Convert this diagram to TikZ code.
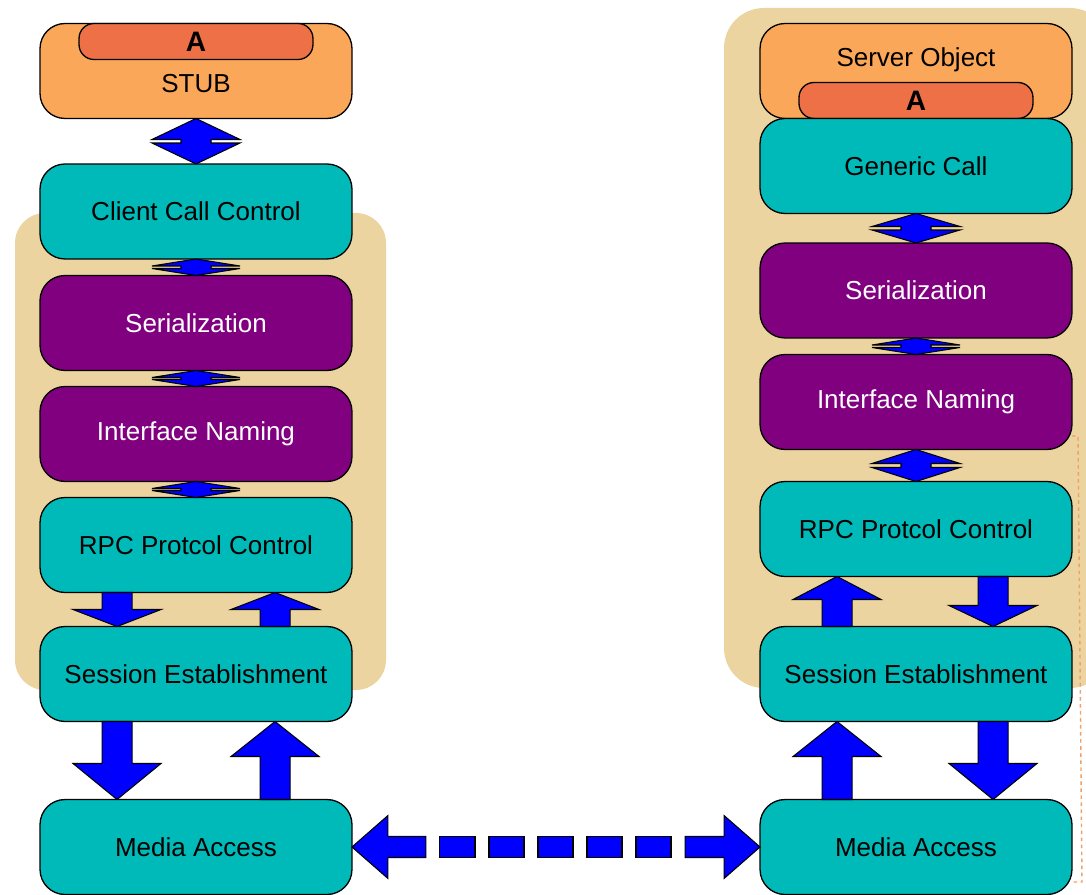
\documentclass[tikz,border=0pt]{standalone}
\usepackage{fontspec}
\setmainfont{Liberation Sans}
\usetikzlibrary{calc}

\definecolor{tanbg}{RGB}{236,212,160}
\definecolor{stubcol}{RGB}{251,167,89}
\definecolor{pillcol}{RGB}{238,112,70}
\definecolor{tealcol}{RGB}{0,186,186}
\definecolor{purplecol}{RGB}{128,0,128}
\definecolor{dotcol}{RGB}{240,160,100}

\tikzset{
	layer/.style={draw,line width=0.75pt,rounded corners=0.5cm,minimum width=6.24cm,minimum height=1.9cm,inner sep=0pt,outer sep=0pt,font=\fontsize{14.8}{17}\selectfont},
	lbl/.style={font=\fontsize{14.8}{17}\selectfont,inner sep=0pt},
	pill/.style={draw,line width=0.75pt,fill=pillcol,rounded corners=0.3cm,minimum width=4.68cm,minimum height=0.72cm,inner sep=0pt,outer sep=0pt,font=\fontsize{16}{18}\selectfont\bfseries},
	blockarr/.style={draw,fill=blue,line width=0.6pt,line join=miter}
}

% block arrows between stacked layers
\newcommand{\blockdown}[4]{\draw[blockarr] ($(#1.south west)+(#3-15,0)$) -- ($(#1.south west)+(#3+15,0)$) -- ($(#2.north west)+(#3+15,-#4)$) -- ($(#2.north west)+(#3+44,-#4)$) -- ($(#2.north west)+(#3,0)$) -- ($(#2.north west)+(#3-44,-#4)$) -- ($(#2.north west)+(#3-15,-#4)$) -- cycle;}
\newcommand{\blockup}[4]{\draw[blockarr] ($(#2.north west)+(#3-15,0)$) -- ($(#2.north west)+(#3+15,0)$) -- ($(#1.south west)+(#3+15,#4)$) -- ($(#1.south west)+(#3+44,#4)$) -- ($(#1.south west)+(#3,0)$) -- ($(#1.south west)+(#3-44,#4)$) -- ($(#1.south west)+(#3-15,#4)$) -- cycle;}
\newcommand{\blockboth}[3]{\draw[blockarr] (#1.south) -- ($(#1.south)+(44,#3)$) -- ($(#1.south)+(15,#3)$) -- ($(#2.north)+(15,-#3)$) -- ($(#2.north)+(44,-#3)$) -- (#2.north) -- ($(#2.north)+(-44,-#3)$) -- ($(#2.north)+(-15,-#3)$) -- ($(#1.south)+(-15,#3)$) -- ($(#1.south)+(-44,#3)$) -- cycle;}

\begin{document}
\begin{tikzpicture}[x=0.02cm,y=-0.02cm]
	\useasboundingbox (0,0) rectangle (1086,895);
	\fill[tanbg,rounded corners=0.6cm] (15,213) rectangle (386,690);
	\fill[tanbg,rounded corners=0.8cm] (724,8) rectangle (1110,688);
	\draw[dotcol,line width=0.8pt,dash pattern=on 2pt off 2pt] (1072,436) -- (1078,436) -- (1082,882) -- (1072,882);

	% client side
	\node[layer,fill=stubcol,label={[lbl,yshift=-0.26cm]center:STUB}] (stub) at (196,71) {};
	\node[pill,anchor=north] (stubA) at (stub.north) {A};
	\node[layer,fill=tealcol] (client) at (196,211.5) {Client Call Control};
	\node[layer,fill=purplecol,text=white] (serL) at (196,323) {Serialization};
	\node[layer,fill=purplecol,text=white] (intL) at (196,434) {Interface Naming};
	\node[layer,fill=tealcol] (rpcL) at (196,545) {RPC Protcol Control};
	\node[layer,fill=tealcol] (sessL) at (196,674) {Session Establishment};
	\node[layer,fill=tealcol] (mediaL) at (196,847) {Media Access};

	% server side
	\node[layer,fill=stubcol,label={[lbl,yshift=0.22cm]center:Server Object}] (server) at (916,71) {};
	\node[pill,anchor=south] (serverA) at (server.south) {A};
	\node[layer,fill=tealcol] (genR) at (916,166) {Generic Call};
	\node[layer,fill=purplecol,text=white] (serR) at (916,290.5) {Serialization};
	\node[layer,fill=purplecol,text=white] (intR) at (916,402) {Interface Naming};
	\node[layer,fill=tealcol] (rpcR) at (916,529) {RPC Protcol Control};
	\node[layer,fill=tealcol] (sessR) at (916,674) {Session Establishment};
	\node[layer,fill=tealcol] (mediaR) at (916,847) {Media Access};

	\blockboth{stub}{client}{21}
	\blockboth{client}{serL}{7}
	\blockboth{serL}{intL}{7}
	\blockboth{intL}{rpcL}{7}
	\blockdown{rpcL}{sessL}{77}{17}
	\blockup{rpcL}{sessL}{235}{17}
	\blockdown{sessL}{mediaL}{77}{36}
	\blockup{sessL}{mediaL}{235}{35}

	\blockboth{genR}{serR}{13}
	\blockboth{serR}{intR}{7}
	\blockboth{intR}{rpcR}{14}
	\blockup{rpcR}{sessR}{77}{23}
	\blockdown{rpcR}{sessR}{233}{21}
	\blockup{sessR}{mediaR}{77}{35}
	\blockdown{sessR}{mediaR}{233}{36}

	% dashed link between media access layers
	\draw[blockarr] (mediaL.east) -- ++(36,-31.5) -- ++(0,21) -- ++(38,0) -- ++(0,21) -- ++(-38,0) -- ++(0,21) -- cycle;
	\draw[blockarr] (mediaR.west) -- ++(-36,-31.5) -- ++(0,21) -- ++(-39,0) -- ++(0,21) -- ++(39,0) -- ++(0,21) -- cycle;
	\foreach \dx in {88,137,186,235,284}
		\draw[blockarr] ($(mediaL.east)+(\dx,-10.5)$) rectangle ++(35,21);
\end{tikzpicture}
\end{document}
